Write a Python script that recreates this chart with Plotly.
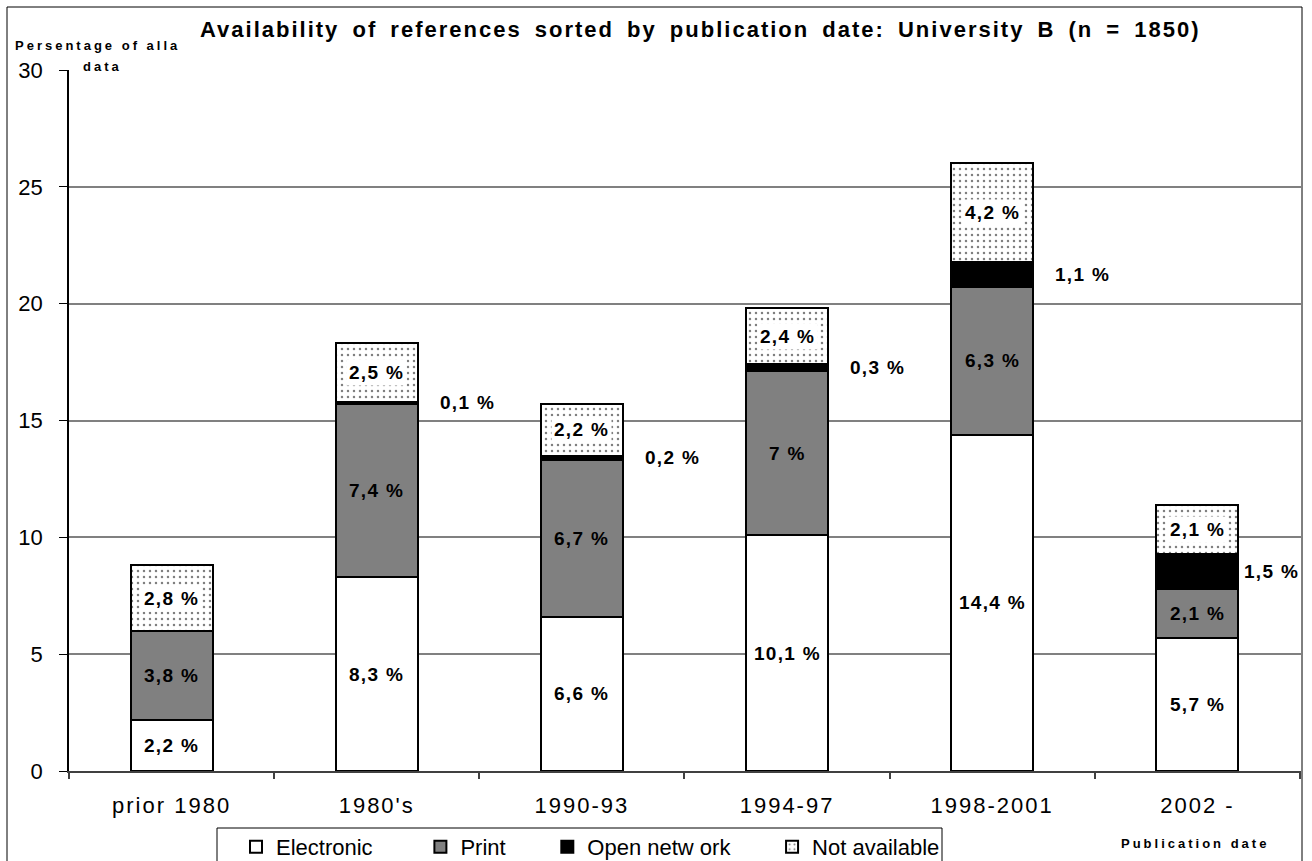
import plotly.graph_objects as go

# ---- data -------------------------------------------------------------
categories = ["prior 1980", "1980's", "1990-93", "1994-97", "1998-2001", "2002 -"]
electronic = [2.2, 8.3, 6.6, 10.1, 14.4, 5.7]
print_copy = [3.8, 7.4, 6.7, 7.0, 6.3, 2.1]
open_network = [0.0, 0.1, 0.2, 0.3, 1.1, 1.5]
not_available = [2.8, 2.5, 2.2, 2.4, 4.2, 2.1]
y_ticks = [0, 5, 10, 15, 20, 25, 30]

# ---- geometry ---------------------------------------------------------
W, H = 1312, 861
ML, MR, MT, MB = 69, 11, 70, 90
PW = W - ML - MR
PH = H - MT - MB
BAR_W = 0.4
FONT = "Arial, Liberation Sans, sans-serif"


def px_x(px):
    return (px - ML) / PW


def px_y(py):
    return (H - MB - py) / PH


def spaced(text, ls, ws=0):
    style = f"letter-spacing:{ls}px"
    if ws:
        style += f";word-spacing:{ws}px"
    return f'<span style="{style}">{text}</span>'


def pct(v):
    return f"{v:g}".replace(".", ",") + " %"


series = [
    ("Electronic", electronic, dict(color="white")),
    ("Print", print_copy, dict(color="#808080")),
    ("Open netw ork", open_network, dict(color="black")),
    ("Not available", not_available,
     dict(color="white", pattern=dict(shape=".", fgcolor="black", bgcolor="white",
                                      size=6, solidity=0.13))),
]
# trailing gap after each legend entry
pad = {"Electronic": 7, "Print": 6, "Open netw ork": 6, "Not available": 0}

fig = go.Figure()
for name, vals, marker in series:
    marker = dict(marker, line=dict(color="black", width=2))
    fig.add_trace(go.Bar(
        x=categories, y=vals, name=name + "\u00a0" * pad[name],
        marker=marker, width=BAR_W, hoverinfo="skip",
    ))

# ---- value labels -----------------------------------------------------
label_font = dict(family=FONT, size=19, color="black", weight="bold")
annotations = []
for i, cat in enumerate(categories):
    base = 0.0
    for name, vals, _ in series:
        v = vals[i]
        mid = base + v / 2
        base += v
        if v == 0:
            continue
        if name == "Open netw ork":
            bar_right = ML + (i + 0.5 + BAR_W / 2) * PW / len(categories)
            shift = min(20, (ML + PW) - bar_right - 58)
            annotations.append(dict(
                x=i + BAR_W / 2, y=mid, xref="x", yref="y", text=spaced(pct(v), 1.3),
                showarrow=False, xanchor="left", yanchor="middle", xshift=shift,
                font=label_font))
        else:
            annotations.append(dict(
                x=cat, y=mid, xref="x", yref="y", text=spaced(pct(v), 1.3),
                showarrow=False, xanchor="center", yanchor="middle", font=label_font,
                bgcolor="white" if name == "Not available" else None, borderpad=2))

# title and axis captions
caption_font = dict(family=FONT, size=13, color="black", weight="bold")
annotations += [
    dict(x=px_x(700), y=px_y(30), xref="paper", yref="paper",
         text=spaced("Availability of references sorted by publication date: University B (n = 1850)", 2, 5),
         showarrow=False, xanchor="center", yanchor="middle",
         font=dict(family=FONT, size=22, color="black", weight="bold")),
    dict(x=px_x(97), y=px_y(45), xref="paper", yref="paper",
         text=spaced("Persentage of alla", 3), showarrow=False,
         xanchor="center", yanchor="middle", font=caption_font),
    dict(x=px_x(102), y=px_y(66), xref="paper", yref="paper",
         text=spaced("data", 3), showarrow=False,
         xanchor="center", yanchor="middle", font=caption_font),
    dict(x=px_x(1195), y=px_y(843), xref="paper", yref="paper",
         text=spaced("Publication date", 3), showarrow=False,
         xanchor="center", yanchor="middle", font=caption_font),
]

fig.update_layout(
    width=W, height=H,
    margin=dict(l=ML, r=MR, t=MT, b=MB, pad=0, autoexpand=False),
    barmode="stack",
    paper_bgcolor="white", plot_bgcolor="white",
    font=dict(family=FONT, color="black"),
    showlegend=True,
    legend=dict(
        orientation="h", xref="container", yref="container",
        x=236 / W, y=(H - 826) / H, xanchor="left", yanchor="top",
        borderwidth=0, bgcolor="rgba(0,0,0,0)",
        font=dict(family=FONT, size=22, color="black"),
        traceorder="normal",
    ),
    annotations=annotations,
    shapes=[
        # outer frame of the chart
        dict(type="rect", xref="paper", yref="paper",
             x0=px_x(7), x1=px_x(1302), y0=px_y(880), y1=px_y(7),
             line=dict(color="black", width=1), layer="below"),
        # legend box
        dict(type="rect", xref="paper", yref="paper",
             x0=px_x(217), x1=px_x(942), y0=px_y(875), y1=px_y(828),
             line=dict(color="black", width=1), layer="below"),
    ],
    xaxis=dict(
        type="category", tickson="boundaries", ticks="outside", ticklen=6,
        tickcolor="#404040", tickwidth=1.5, showline=True, linecolor="#404040",
        linewidth=1.5, showgrid=False, ticklabelstandoff=14, automargin=False,
        tickfont=dict(family=FONT, size=22, color="black"),
        tickmode="array", tickvals=categories,
        ticktext=[spaced(c, 2) for c in categories],
    ),
    yaxis=dict(
        range=[0, 30], tickmode="array", tickvals=y_ticks,
        ticktext=[str(t) for t in y_ticks], automargin=False,
        ticks="outside", ticklen=8, tickcolor="black", tickwidth=1,
        showline=True, linecolor="black", linewidth=1.5,
        showgrid=True, gridcolor="#808080", gridwidth=1.5, zeroline=False,
        ticklabelstandoff=12,
        tickfont=dict(family=FONT, size=22, color="black"),
    ),
)

fig.write_html("out.html")
